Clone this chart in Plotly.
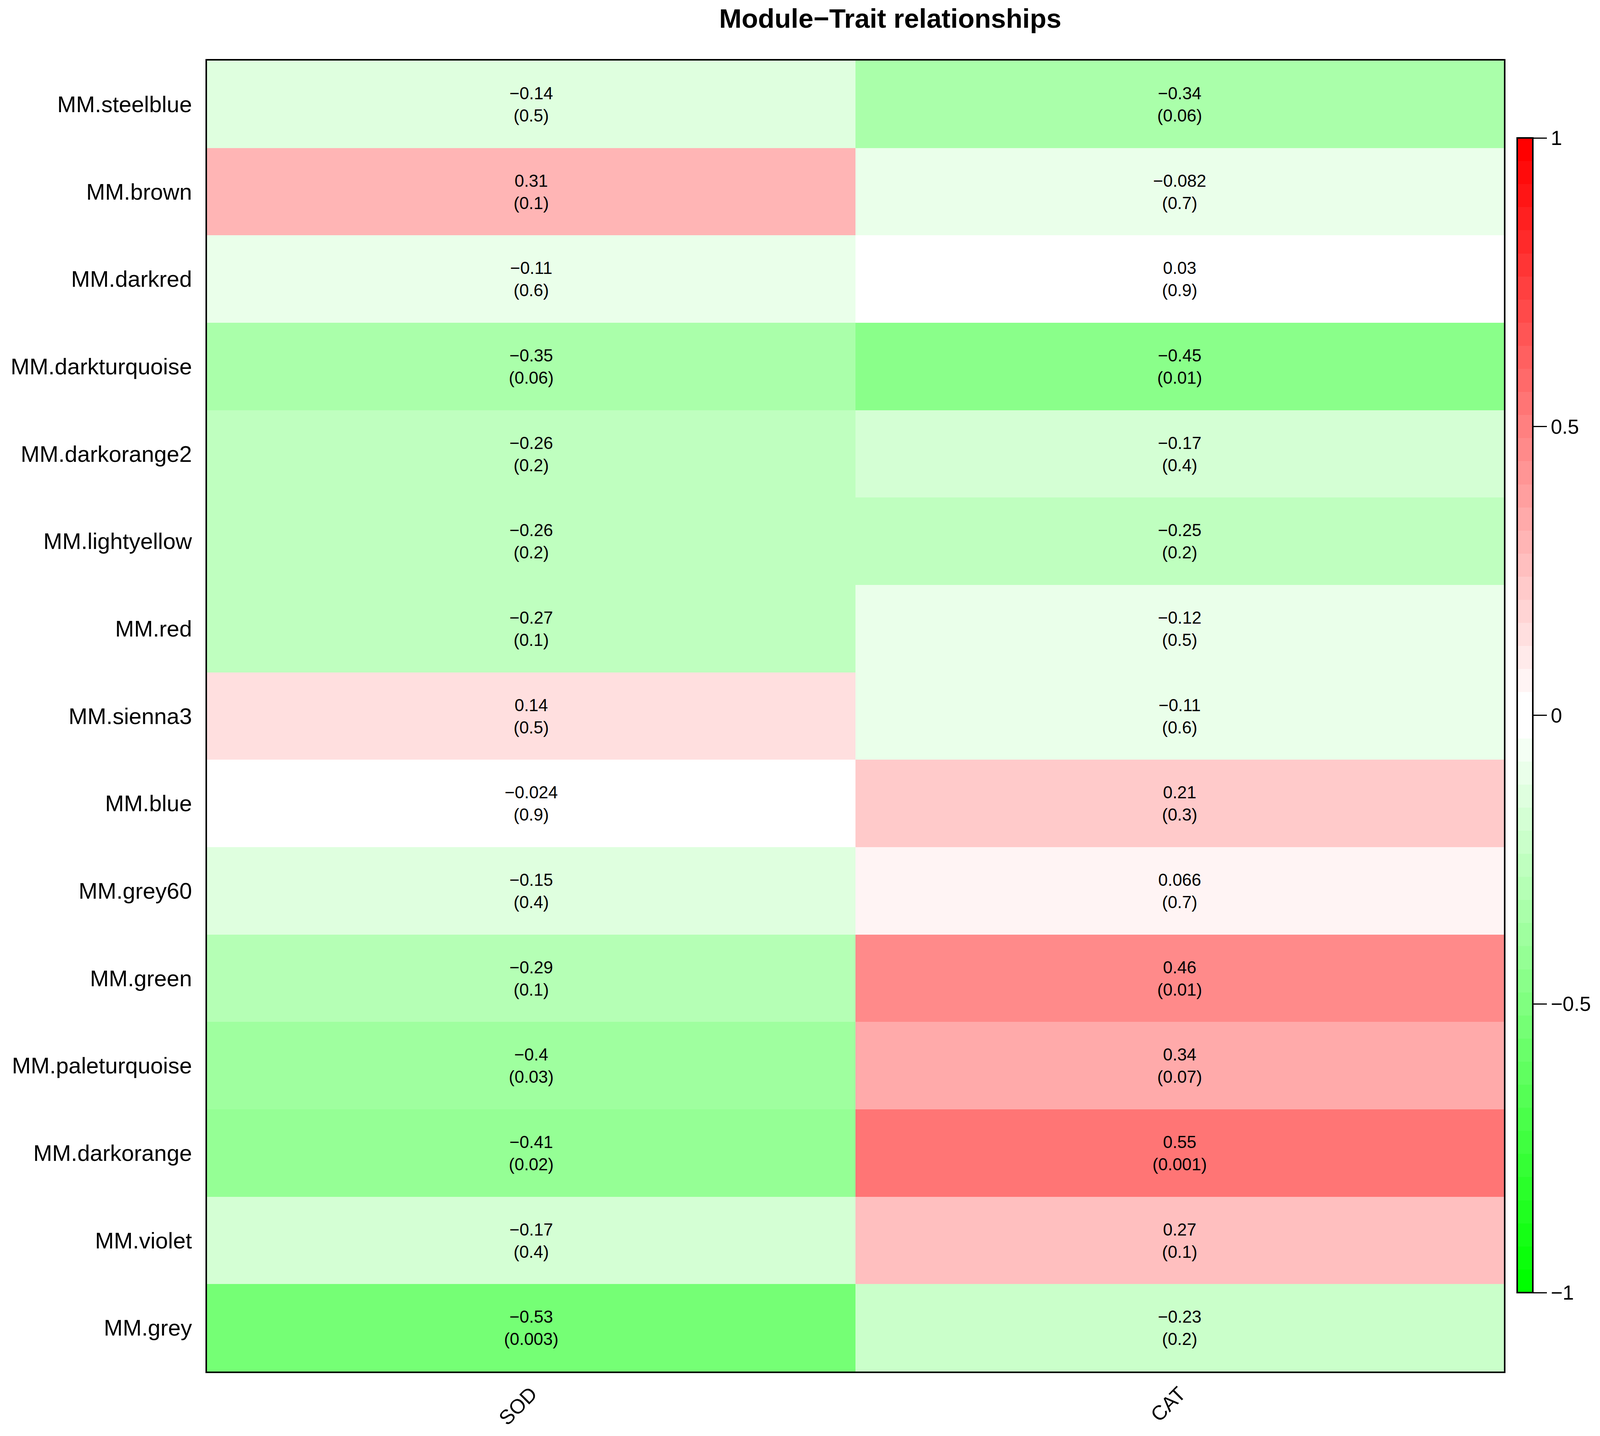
import plotly.graph_objects as go

# module eigengene rows (top to bottom) and traits
modules = ["MM.steelblue", "MM.brown", "MM.darkred", "MM.darkturquoise", "MM.darkorange2",
           "MM.lightyellow", "MM.red", "MM.sienna3", "MM.blue", "MM.grey60",
           "MM.green", "MM.paleturquoise", "MM.darkorange", "MM.violet", "MM.grey"]
traits = ["SOD", "CAT"]

sod_cor = [-0.14, 0.31, -0.11, -0.35, -0.26, -0.26, -0.27, 0.14, -0.024, -0.15,
           -0.29, -0.4, -0.41, -0.17, -0.53]
sod_p = [0.5, 0.1, 0.6, 0.06, 0.2, 0.2, 0.1, 0.5, 0.9, 0.4, 0.1, 0.03, 0.02, 0.4, 0.003]
cat_cor = [-0.34, -0.082, 0.03, -0.45, -0.17, -0.25, -0.12, -0.11, 0.21, 0.066,
           0.46, 0.34, 0.55, 0.27, -0.23]
cat_p = [0.06, 0.7, 0.9, 0.01, 0.4, 0.2, 0.5, 0.6, 0.3, 0.7, 0.01, 0.07, 0.001, 0.1, 0.2]

cbar_ticks = [-1, -0.5, 0, 0.5, 1]


def fmt(v):
    return f"{v:g}".replace("-", "\u2212")


# green-white-red palette in 50 steps (like WGCNA greenWhiteRed(50))
n_col = 50
half = n_col // 2
steps = []
for i in range(n_col):
    if i < half:
        f = i / (half - 1)
        r, g, b = f, 1.0, f
    else:
        f = 1 - (i - half) / (half - 1)
        r, g, b = 1.0, f, f
    c = f"rgb({round(r * 255)},{round(g * 255)},{round(b * 255)})"
    steps.append([i / n_col, c])
    steps.append([(i + 1) / n_col, c])

z = [[s, c] for s, c in zip(sod_cor, cat_cor)]
text = [[f"{fmt(s)}<br>({fmt(sp)})", f"{fmt(c)}<br>({fmt(cp)})"]
        for s, sp, c, cp in zip(sod_cor, sod_p, cat_cor, cat_p)]

# page body has an 8px margin, so shrink the figure and shift by it
OFF = 8
W, H = 4107 - 2 * OFF, 3675 - 2 * OFF
left, right, top, bottom = 530 - OFF, 3850 - OFF, 155 - OFF, 3510 - OFF
font = "Liberation Sans, Arial, Helvetica, sans-serif"

fig = go.Figure()
fig.add_trace(go.Heatmap(
    z=z, x=traits, y=modules, text=text, texttemplate="%{text}",
    textfont=dict(family=font, size=44, color="black"),
    zmin=-1, zmax=1, colorscale=steps,
    colorbar=dict(
        x=(3884 - OFF - left) / (right - left), xanchor="left", xpad=0,
        y=((3510 - 3308) + (3510 - 353)) / 2 / (3510 - 155), yanchor="middle", ypad=0,
        len=(3308 - 353) / (3510 - 155), lenmode="fraction",
        thickness=40, outlinewidth=4, outlinecolor="black",
        tickvals=cbar_ticks, ticktext=[fmt(t) for t in cbar_ticks],
        ticks="outside", ticklen=34, tickwidth=3, tickcolor="black",
        tickfont=dict(family=font, size=52, color="black"),
    ),
))

fig.update_layout(
    width=W, height=H,
    margin=dict(l=left, r=W - right, t=top, b=H - bottom, autoexpand=False),
    paper_bgcolor="white", plot_bgcolor="white",
    title=dict(text="<b>Module\u2212Trait relationships</b>",
               x=(2279 - OFF) / W, xref="container", xanchor="center",
               y=1 - (47 - OFF) / H, yref="container", yanchor="middle",
               font=dict(family=font, size=69, color="black")),
)
fig.update_xaxes(
    tickangle=-45, ticks="outside", ticklen=2, tickcolor="rgba(0,0,0,0)",
    tickfont=dict(family=font, size=52, color="black"),
    showline=True, linecolor="black", linewidth=4, mirror=True, showgrid=False,
)
fig.update_yaxes(
    autorange="reversed", ticks="outside", ticklen=23, tickcolor="rgba(0,0,0,0)",
    tickfont=dict(family=font, size=58, color="black"),
    showline=True, linecolor="black", linewidth=4, mirror=True, showgrid=False,
)

fig.write_html("out.html")
